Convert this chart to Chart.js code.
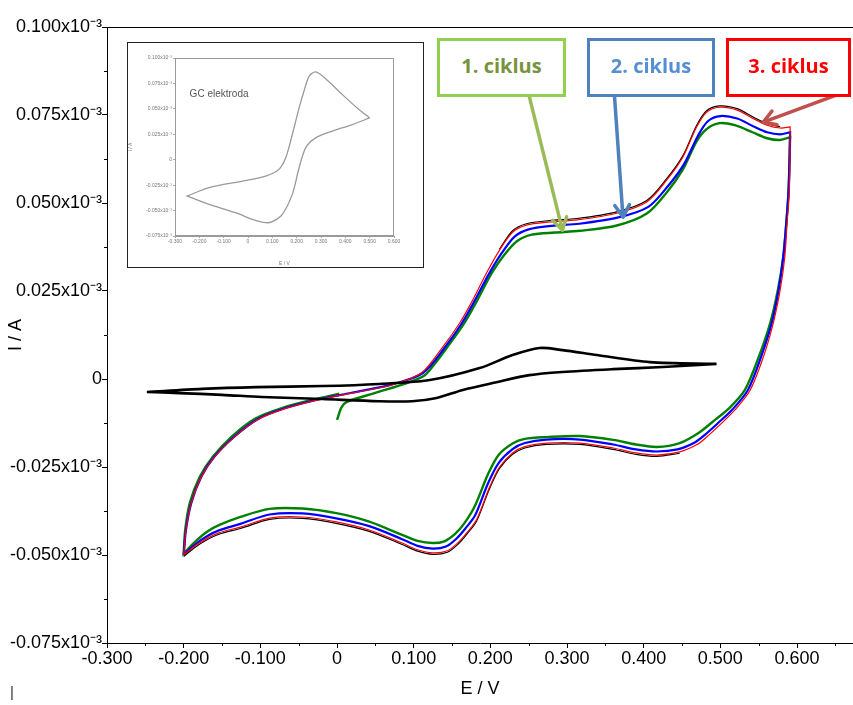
<!DOCTYPE html>
<html><head><meta charset="utf-8">
<script src="https://cdn.jsdelivr.net/npm/chart.js@4.4.0/dist/chart.umd.min.js"></script>
<style>
html,body{margin:0;padding:0;background:#fff;}
#wrap{position:relative;width:853px;height:705px;overflow:hidden;background:#fff;}
#main{position:absolute;left:0;top:0;}
#insetBox{position:absolute;left:127px;top:42px;width:295px;height:224px;border:1.5px solid #222;background:#fff;}
#inset{position:absolute;left:0;top:0;}
.lbl{position:absolute;box-sizing:border-box;border:3px solid;background:#fff;font-family:'Open Sans',Lato,sans-serif;font-weight:700;font-size:20px;display:flex;align-items:center;justify-content:center;padding-bottom:5px;}
#cursor{position:absolute;left:10px;top:683px;font:15px 'Liberation Sans',Arial,sans-serif;color:#333;}
</style></head>
<body>
<div id="wrap">
<canvas id="main" width="853" height="705"></canvas>
<div id="insetBox"><canvas id="inset" width="295" height="224"></canvas></div>
<div class="lbl" id="l1" style="left:437px;top:38px;width:129px;height:59px;border-color:#92D050;color:#77933C;">1. ciklus</div>
<div class="lbl" id="l2" style="left:587px;top:38px;width:128px;height:59px;border-color:#4F81BD;color:#558ED5;">2. ciklus</div>
<div class="lbl" id="l3" style="left:726px;top:38px;width:125px;height:59px;border-color:#FF0000;color:#FF0000;">3. ciklus</div>
<div id="cursor">|</div>
</div>
<script>
// ---------- data (E in V, I in 10^-3 A) ----------
const xTicks = [-0.3,-0.2,-0.1,0,0.1,0.2,0.3,0.4,0.5,0.6];
const xMinorTicks = [-0.25,-0.15,-0.05,0.05,0.15,0.25,0.35,0.45,0.55,0.65];
const yTicks = [-0.075,-0.05,-0.025,0,0.025,0.05,0.075,0.1];
const yMinorTicks = [-0.0625,-0.0375,-0.0125,0.0125,0.0375,0.0625,0.0875];

const blankE = [-0.248,-0.176,-0.105,-0.019,0.055,0.121,0.186,0.229,0.264,0.294,0.339,0.408,0.495,0.495,0.425,0.360,0.294,0.251,0.208,0.164,0.130,0.098,0.055,-0.019,-0.098,-0.150,-0.206,-0.248];
const blankI = [-0.0037,-0.0028,-0.0023,-0.0020,-0.0014,-0.0003,0.0031,0.0068,0.0088,0.0082,0.0068,0.0048,0.0043,0.0043,0.0034,0.0028,0.0020,0.0011,-0.0009,-0.0031,-0.0054,-0.0063,-0.0063,-0.0057,-0.0051,-0.0045,-0.0040,-0.0037];

const cyc1E = [0.000,0.006,0.013,0.049,0.092,0.114,0.128,0.144,0.166,0.183,0.201,0.218,0.235,0.254,0.284,0.317,0.365,0.404,0.430,0.451,0.469,0.482,0.499,0.519,0.542,0.561,0.578,0.591,
 0.591,0.589,0.586,0.582,0.575,0.565,0.550,0.532,0.512,0.493,0.473,0.447,0.417,0.390,0.360,0.317,0.273,0.245,0.229,0.211,0.197,0.180,0.166,0.154,0.140,0.125,0.105,0.085,0.042,-0.001,-0.045,-0.088,-0.125,-0.154,-0.169,-0.185,-0.200,
 -0.200,-0.198,-0.192,-0.179,-0.162,-0.137,-0.107,-0.071,-0.028,0.003];
const cyc1I = [-0.0116,-0.0080,-0.0065,-0.0040,-0.0011,0.0010,0.0045,0.0091,0.0159,0.0224,0.0298,0.0352,0.0392,0.0410,0.0416,0.0421,0.0436,0.0470,0.0530,0.0595,0.0675,0.0710,0.0727,0.0721,0.0701,0.0684,0.0679,0.0687,
 0.0687,0.0537,0.0443,0.0346,0.0253,0.0159,0.0062,-0.0031,-0.0082,-0.0116,-0.0151,-0.0182,-0.0193,-0.0186,-0.0173,-0.0162,-0.0165,-0.0170,-0.0183,-0.0215,-0.0270,-0.0360,-0.0410,-0.0440,-0.0461,-0.0466,-0.0460,-0.0443,-0.0405,-0.0381,-0.0368,-0.0369,-0.0391,-0.0415,-0.0433,-0.0462,-0.0496,
 -0.0496,-0.0429,-0.0352,-0.0278,-0.0221,-0.0163,-0.0113,-0.0082,-0.0057,-0.0042];

const cyc2E = [-0.200,-0.197,-0.190,-0.177,-0.160,-0.134,-0.104,-0.069,-0.026,0.019,0.071,0.112,0.141,0.163,0.180,0.198,0.215,0.232,0.250,0.280,0.316,0.367,0.406,0.432,0.453,0.471,0.484,0.500,0.522,0.542,0.561,0.578,0.591,
 0.591,0.589,0.586,0.582,0.576,0.567,0.553,0.536,0.516,0.496,0.479,0.466,0.444,0.417,0.390,0.360,0.317,0.273,0.245,0.229,0.211,0.197,0.180,0.168,0.156,0.142,0.125,0.105,0.085,0.042,-0.001,-0.045,-0.088,-0.125,-0.154,-0.169,-0.185,-0.200];
const cyc2I = [-0.0500,-0.0429,-0.0352,-0.0278,-0.0221,-0.0164,-0.0115,-0.0084,-0.0059,-0.0039,-0.0016,0.0017,0.0091,0.0159,0.0224,0.0298,0.0358,0.0405,0.0425,0.0435,0.0441,0.0459,0.0489,0.0549,0.0612,0.0692,0.0733,0.0747,0.0740,0.0719,0.0701,0.0695,0.0701,
 0.0701,0.0537,0.0443,0.0346,0.0253,0.0159,0.0062,-0.0031,-0.0086,-0.0127,-0.0160,-0.0181,-0.0200,-0.0206,-0.0200,-0.0186,-0.0172,-0.0172,-0.0182,-0.0199,-0.0238,-0.0296,-0.0388,-0.0423,-0.0453,-0.0476,-0.0482,-0.0474,-0.0455,-0.0418,-0.0396,-0.0382,-0.0385,-0.0411,-0.0430,-0.0446,-0.0470,-0.0500];

const cyc3E = [-0.200,-0.197,-0.190,-0.177,-0.160,-0.134,-0.104,-0.069,-0.026,0.019,0.071,0.110,0.138,0.160,0.177,0.195,0.212,0.229,0.247,0.277,0.313,0.365,0.404,0.430,0.451,0.469,0.482,0.499,0.522,0.542,0.561,0.578,0.591,
 0.591,0.590,0.587,0.584,0.578,0.569,0.556,0.539,0.519,0.499,0.482,0.469,0.447,0.417,0.390,0.360,0.317,0.273,0.245,0.229,0.212,0.199,0.182,0.170,0.158,0.144,0.125,0.105,0.085,0.042,-0.001,-0.045,-0.088,-0.125,-0.154,-0.169,-0.185,-0.200];
const cyc3I = [-0.0500,-0.0429,-0.0352,-0.0278,-0.0222,-0.0165,-0.0116,-0.0085,-0.0060,-0.0040,-0.0017,0.0017,0.0091,0.0159,0.0224,0.0301,0.0366,0.0417,0.0437,0.0446,0.0452,0.0471,0.0503,0.0565,0.0630,0.0716,0.0758,0.0772,0.0764,0.0741,0.0721,0.0713,0.0716,
 0.0716,0.0537,0.0443,0.0346,0.0253,0.0159,0.0062,-0.0031,-0.0088,-0.0131,-0.0165,-0.0187,-0.0207,-0.0216,-0.0210,-0.0196,-0.0182,-0.0182,-0.0192,-0.0210,-0.0250,-0.0307,-0.0400,-0.0435,-0.0465,-0.0488,-0.0494,-0.0485,-0.0466,-0.0429,-0.0406,-0.0392,-0.0395,-0.0420,-0.0437,-0.0452,-0.0474,-0.0500];

// dark trace lying just outside the 3rd cycle
const edgeE = [0.212,0.229,0.247,0.277,0.313,0.365,0.404,0.430,0.451,0.469,0.482,0.499,0.522,0.542,0.561,0.578,null,0.447,0.417,0.390,0.360,0.317,0.273,0.245,0.229,0.212,0.199,0.182,0.170,0.158,0.144,0.125,0.105,0.085,0.042,-0.001,-0.045,-0.088,-0.125,-0.154,-0.169,-0.185,-0.200];
const edgeI = [0.0369,0.0421,0.0441,0.0450,0.0456,0.0475,0.0507,0.0569,0.0634,0.0720,0.0762,0.0776,0.0768,0.0745,0.0725,0.0717,null,-0.0211,-0.0220,-0.0214,-0.0200,-0.0186,-0.0186,-0.0196,-0.0214,-0.0254,-0.0311,-0.0404,-0.0439,-0.0469,-0.0492,-0.0498,-0.0489,-0.0470,-0.0433,-0.0410,-0.0396,-0.0399,-0.0424,-0.0441,-0.0456,-0.0478,-0.0504];

// inset: GC elektroda
const gcE = [0.500,0.456,0.388,0.319,0.278,0.251,0.230,0.210,0.182,0.155,0.127,0.073,-0.023,-0.160,-0.250,-0.250,-0.160,-0.051,0.018,0.073,0.100,0.141,0.182,0.210,0.237,0.278,0.347,0.429,0.500];
const gcI = [0.0411,0.0493,0.0640,0.0797,0.0863,0.0820,0.0673,0.0510,0.0248,0.0019,-0.0095,-0.0161,-0.0210,-0.0275,-0.0357,-0.0357,-0.0439,-0.0521,-0.0586,-0.0619,-0.0609,-0.0537,-0.0341,-0.0079,0.0117,0.0215,0.0281,0.0346,0.0411];

// annotation arrows (data coordinates: tail -> tip)
const arrowTailE = [0.251,0.362,0.652];
const arrowTailI = [0.0801,0.0801,0.0807];
const arrowTipE  = [0.294,0.373,0.556];
const arrowTipI  = [0.0423,0.0460,0.0730];
const arrowColors = ['#9BBB59','#4F81BD','#C0504D'];

// ---------- helpers ----------
const pts = (E,I) => E.map((e,i)=> e===null ? {x:null,y:null} : {x:e,y:I[i]});
const FONT = "'Liberation Sans', Arial, sans-serif";
const fmtX = v => Math.abs(v)<1e-9 ? '0' : v.toFixed(3);
const fmtY = v => Math.abs(v)<1e-9 ? '0' : v.toFixed(3)+'x10\u207B\u00B3';

function lineDs(label,data,color,width,order){
  return {label,data,showLine:true,borderColor:color,backgroundColor:color,borderWidth:width,pointRadius:0,tension:0.3,fill:false,order,spanGaps:false};
}

const extrasPlugin = {
  id:'extras',
  afterDraw(chart){
    const {ctx,chartArea,scales} = chart;
    const xs = scales.x, ys = scales.y;
    ctx.save();
    ctx.strokeStyle = '#000'; ctx.lineWidth = 1;
    ctx.beginPath(); ctx.moveTo(chartArea.left, chartArea.top+0.5); ctx.lineTo(chartArea.right, chartArea.top+0.5); ctx.stroke();
    ctx.beginPath();
    xMinorTicks.forEach(v=>{ const p=Math.round(xs.getPixelForValue(v))+0.5; ctx.moveTo(p,chartArea.bottom); ctx.lineTo(p,chartArea.bottom+3); });
    yMinorTicks.forEach(v=>{ const p=Math.round(ys.getPixelForValue(v))+0.5; ctx.moveTo(chartArea.left,p); ctx.lineTo(chartArea.left-3,p); });
    ctx.stroke();
    ctx.lineCap='round'; ctx.lineJoin='round';
    arrowTailE.forEach((e,i)=>{
      const x0=xs.getPixelForValue(e), y0=ys.getPixelForValue(arrowTailI[i]);
      const x1=xs.getPixelForValue(arrowTipE[i]), y1=ys.getPixelForValue(arrowTipI[i]);
      const a=Math.atan2(y1-y0,x1-x0), L=14, w=0.55;
      ctx.strokeStyle=arrowColors[i]; ctx.lineWidth=3.5;
      ctx.beginPath(); ctx.moveTo(x0,y0); ctx.lineTo(x1,y1); ctx.stroke();
      ctx.beginPath();
      ctx.moveTo(x1-L*Math.cos(a-w), y1-L*Math.sin(a-w));
      ctx.lineTo(x1,y1);
      ctx.lineTo(x1-L*Math.cos(a+w), y1-L*Math.sin(a+w));
      ctx.stroke();
    });
    ctx.restore();
  }
};

new Chart(document.getElementById('main'), {
  type:'scatter',
  data:{datasets:[
    lineDs('3. ciklus', pts(cyc3E,cyc3I), '#FF0000', 1.2, 0),
    lineDs('3. ciklus rub', pts(edgeE,edgeI), '#000000', 1.2, 1),
    lineDs('2. ciklus', pts(cyc2E,cyc2I), '#0000FF', 2.2, 2),
    lineDs('1. ciklus', pts(cyc1E,cyc1I), '#008000', 2.4, 3),
    lineDs('slijepa proba', pts(blankE,blankI), '#000000', 2.6, -1)
  ]},
  options:{
    responsive:false, animation:false, devicePixelRatio:1,
    layout:{padding:{top:27,right:0,left:0,bottom:0}},
    plugins:{legend:{display:false},tooltip:{enabled:false}},
    scales:{
      x:{type:'linear',min:-0.3,max:0.673,
        afterBuildTicks:s=>{s.ticks=xTicks.map(v=>({value:v}));},
        afterFit:s=>{s.height=62;},
        grid:{drawOnChartArea:false,drawTicks:true,tickLength:5,color:'#000',lineWidth:1},
        border:{display:true,color:'#000',width:1},
        ticks:{color:'#000',font:{family:FONT,size:18},padding:0,maxRotation:0,autoSkip:false,callback:v=>fmtX(v)},
        title:{display:true,text:'E / V',color:'#000',font:{family:FONT,size:18},padding:{top:2,bottom:5}}
      },
      y:{type:'linear',min:-0.075,max:0.1,
        afterBuildTicks:s=>{s.ticks=yTicks.map(v=>({value:v}));},
        afterFit:s=>{s.width=107;},
        grid:{drawOnChartArea:false,drawTicks:true,tickLength:5,color:'#000',lineWidth:1},
        border:{display:true,color:'#000',width:1},
        ticks:{color:'#000',font:{family:FONT,size:18},padding:0,autoSkip:false,callback:v=>fmtY(v)},
        title:{display:true,text:'I / A',color:'#000',font:{family:FONT,size:18},padding:{top:5,bottom:0}}
      }
    }
  },
  plugins:[extrasPlugin]
});

// ---------- inset ----------
const insetTicksX = [-0.3,-0.2,-0.1,0,0.1,0.2,0.3,0.4,0.5,0.6];
const insetTicksY = [-0.075,-0.05,-0.025,0,0.025,0.05,0.075,0.1];
const insetPlugin = {
  id:'insetFrame',
  afterDraw(chart){
    const {ctx,chartArea:a} = chart;
    ctx.save();
    ctx.strokeStyle='#9a9a9a'; ctx.lineWidth=1;
    ctx.strokeRect(a.left+0.5,a.top+0.5,a.right-a.left-1,a.bottom-a.top-1);
    ctx.fillStyle='#555'; ctx.font="10px "+FONT;
    ctx.fillText('GC elektroda', chart.scales.x.getPixelForValue(-0.24), chart.scales.y.getPixelForValue(0.062));
    ctx.restore();
  }
};
new Chart(document.getElementById('inset'), {
  type:'scatter',
  data:{datasets:[lineDs('GC elektroda', pts(gcE,gcI), '#9a9a9a', 1.3, 0)]},
  options:{
    responsive:false, animation:false, devicePixelRatio:1,
    layout:{padding:{top:15,right:29,left:0,bottom:0}},
    plugins:{legend:{display:false},tooltip:{enabled:false}},
    scales:{
      x:{type:'linear',min:-0.3,max:0.6,
        afterBuildTicks:s=>{s.ticks=insetTicksX.map(v=>({value:v}));},
        afterFit:s=>{s.height=31;},
        grid:{drawOnChartArea:false,tickLength:2,color:'#aaa'},
        border:{display:true,color:'#9a9a9a'},
        ticks:{color:'#777',font:{family:FONT,size:5},padding:1,maxRotation:0,autoSkip:false,callback:v=>fmtX(v)},
        title:{display:true,text:'E / V',color:'#777',font:{family:FONT,size:5},padding:{top:1,bottom:0}}
      },
      y:{type:'linear',min:-0.075,max:0.1,
        afterBuildTicks:s=>{s.ticks=insetTicksY.map(v=>({value:v}));},
        afterFit:s=>{s.width=47;},
        grid:{drawOnChartArea:false,tickLength:2,color:'#aaa'},
        border:{display:true,color:'#9a9a9a'},
        ticks:{color:'#777',font:{family:FONT,size:5},padding:1,autoSkip:false,callback:v=>fmtY(v)},
        title:{display:true,text:'I / A',color:'#777',font:{family:FONT,size:5},padding:{top:0,bottom:1}}
      }
    }
  },
  plugins:[insetPlugin]
});
</script>
</body></html>
